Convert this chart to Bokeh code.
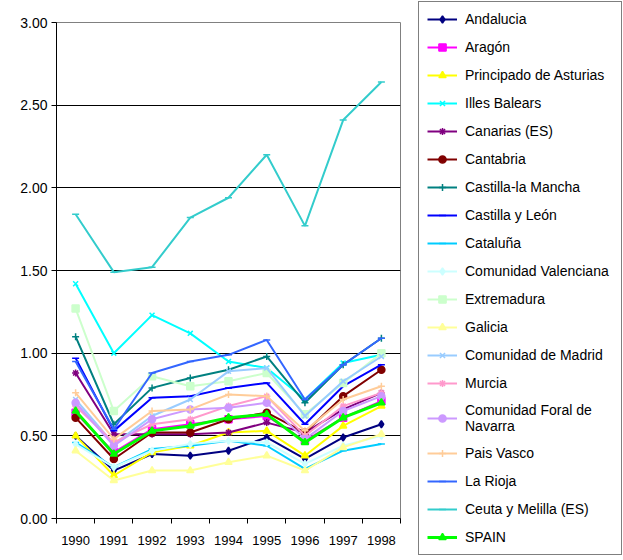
from bokeh.plotting import figure
from bokeh.layouts import row
from bokeh.models import Legend, LegendItem, FixedTicker, Range1d, NumeralTickFormatter
from bokeh.embed import file_html
from bokeh.resources import INLINE

years = [1990, 1991, 1992, 1993, 1994, 1995, 1996, 1997, 1998]

andalucia = [0.50, 0.29, 0.39, 0.38, 0.41, 0.49, 0.36, 0.49, 0.57]
aragon = [0.64, 0.40, 0.54, 0.57, 0.60, 0.62, 0.47, 0.61, 0.71]
asturias = [0.50, 0.26, 0.40, 0.44, 0.52, 0.53, 0.38, 0.56, 0.68]
balears = [1.42, 1.00, 1.23, 1.12, 0.95, 0.91, 0.72, 0.94, 0.99]
canarias = [0.88, 0.51, 0.51, 0.51, 0.52, 0.58, 0.52, 0.66, 0.76]
cantabria = [0.61, 0.36, 0.52, 0.52, 0.60, 0.64, 0.52, 0.74, 0.90]
castilla_la_mancha = [1.10, 0.57, 0.79, 0.85, 0.90, 0.98, 0.70, 0.93, 1.09]
castilla_y_leon = [0.97, 0.53, 0.73, 0.74, 0.79, 0.82, 0.57, 0.80, 0.93]
cataluna = [0.46, 0.31, 0.42, 0.44, 0.47, 0.44, 0.30, 0.41, 0.45]
valenciana = [0.45, 0.31, 0.41, 0.45, 0.47, 0.46, 0.33, 0.44, 0.50]
extremadura = [1.27, 0.65, 0.86, 0.80, 0.83, 0.88, 0.63, 0.82, 1.00]
galicia = [0.41, 0.23, 0.29, 0.29, 0.34, 0.38, 0.29, 0.43, 0.51]
madrid = [0.72, 0.45, 0.62, 0.72, 0.89, 0.91, 0.62, 0.83, 0.98]
murcia = [0.68, 0.46, 0.57, 0.60, 0.68, 0.74, 0.50, 0.68, 0.76]
navarra = [0.70, 0.44, 0.60, 0.66, 0.67, 0.70, 0.48, 0.65, 0.74]
pais_vasco = [0.76, 0.48, 0.65, 0.66, 0.75, 0.74, 0.53, 0.72, 0.80]
la_rioja = [0.95, 0.54, 0.88, 0.95, 0.99, 1.08, 0.72, 0.93, 1.09]
ceuta_melilla = [1.84, 1.49, 1.52, 1.82, 1.94, 2.20, 1.77, 2.41, 2.64]
spain = [0.65, 0.39, 0.53, 0.56, 0.61, 0.63, 0.46, 0.61, 0.70]

labels = ["Andalucia", "Aragón", "Principado de Asturias", "Illes Balears",
          "Canarias (ES)", "Cantabria", "Castilla-la Mancha", "Castilla y León",
          "Cataluña", "Comunidad Valenciana", "Extremadura", "Galicia",
          "Comunidad de Madrid", "Murcia", "Comunidad Foral de\nNavarra", "Pais Vasco",
          "La Rioja", "Ceuta y Melilla (ES)", "SPAIN"]
series = [andalucia, aragon, asturias, balears, canarias, cantabria,
          castilla_la_mancha, castilla_y_leon, cataluna, valenciana, extremadura,
          galicia, madrid, murcia, navarra, pais_vasco, la_rioja, ceuta_melilla, spain]
colors = ["#000080", "#FF00FF", "#FFFF00", "#00FFFF", "#800080", "#800000",
          "#008080", "#0000FF", "#00CCFF", "#CCFFFF", "#CCFFCC", "#FFFF99",
          "#99CCFF", "#FF99CC", "#CC99FF", "#FFCC99", "#3366FF", "#33CCCC", "#00FF00"]
markers = ["diamond", "square", "triangle", "x", "asterisk", "circle", "cross",
           "dash", "dash", "diamond", "square", "triangle", "x", "asterisk",
           "circle", "cross", "dash", "dash", "triangle"]
y_ticks = [0.0, 0.5, 1.0, 1.5, 2.0, 2.5, 3.0]

FONT = "Liberation Sans"

p = figure(title=None, width=417, height=560, output_backend="svg", toolbar_location=None,
           x_range=Range1d(1989.5, 1998.5), y_range=Range1d(0, 3),
           min_border_left=56, min_border_right=17, min_border_top=22,
           min_border_bottom=42)
p.frame_align = False
p.background_fill_color = "white"
p.border_fill_color = "white"
p.outline_line_color = "#808080"
p.outline_line_width = 1

p.xgrid.visible = False
p.ygrid.ticker = FixedTicker(ticks=y_ticks[1:-1])
p.ygrid.grid_line_color = "#000000"
p.ygrid.grid_line_width = 1

p.yaxis.ticker = FixedTicker(ticks=y_ticks)
p.yaxis.formatter = NumeralTickFormatter(format="0.00")
p.yaxis.minor_tick_line_color = None
p.yaxis.major_tick_out = 5
p.yaxis.major_tick_in = 0
p.yaxis.major_label_standoff = 4
p.yaxis.axis_line_color = "#000000"
p.yaxis.major_tick_line_color = "#000000"

p.xaxis.ticker = FixedTicker(ticks=years, minor_ticks=[y - 0.5 for y in years] + [years[-1] + 0.5])
p.xaxis.major_tick_out = 0
p.xaxis.major_tick_in = 0
p.xaxis.minor_tick_out = 5
p.xaxis.minor_tick_in = 0
p.xaxis.minor_tick_line_color = "#000000"
p.xaxis.major_label_standoff = 12
p.xaxis.axis_line_color = "#000000"

for ax in (p.xaxis, p.yaxis):
    ax.major_label_text_font = FONT
    ax.major_label_text_color = "#000000"
p.xaxis.major_label_text_font_size = "13px"
p.yaxis.major_label_text_font_size = "14px"

# legend panel: a second figure whose frame holds the legend; its own copies of
# the series lie outside its ranges, so only the legend keys are visible
pl = figure(title=None, width=206, height=560, output_backend="svg", toolbar_location=None,
            x_range=Range1d(0, 1), y_range=Range1d(5, 6),
            x_axis_type=None, y_axis_type=None,
            min_border_left=0, min_border_right=0, min_border_top=0,
            min_border_bottom=0)
pl.frame_align = False
pl.grid.visible = False
pl.outline_line_color = None
pl.background_fill_color = "white"
pl.border_fill_color = "white"

items = []
for name, vals, col, mk in zip(labels, series, colors, markers):
    lw = 3 if name == "SPAIN" else 2
    p.line(years, vals, line_color=col, line_width=lw)
    p.scatter(years, vals, marker=mk, size=7, fill_color=col, line_color=col,
              line_width=1.5)
    l1 = pl.line(years, vals, line_color=col, line_width=lw)
    l2 = pl.scatter(years, vals, marker=mk, size=7, fill_color=col, line_color=col,
                    line_width=1.5)
    items.append(LegendItem(label=name, renderers=[l1, l2]))

legend = Legend(items=items, location="top_left", margin=1, padding=8,
                spacing=10, glyph_width=30, glyph_height=18, label_height=18,
                label_width=148, label_standoff=8,
                label_text_font=FONT, label_text_font_size="14px",
                label_text_color="#000000", label_text_line_height=0.85,
                border_line_color="#000000", border_line_width=1,
                background_fill_color="white", background_fill_alpha=1)
pl.add_layout(legend, "center")

layout = row(p, pl)
open("out.html", "w").write(file_html(layout, INLINE))
